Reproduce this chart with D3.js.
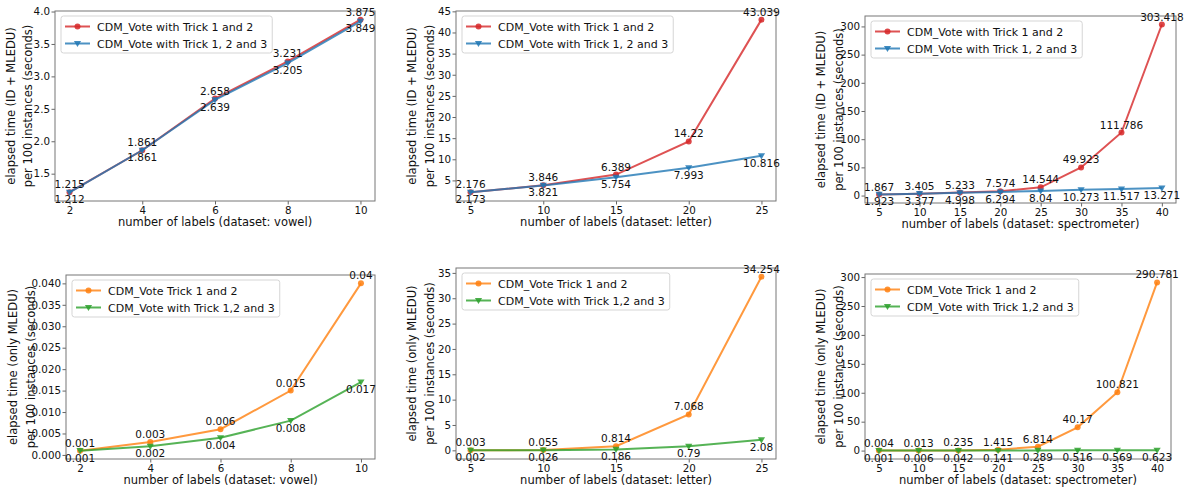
<!DOCTYPE html>
<html>
<head>
<meta charset="utf-8">
<script src="https://cdn.jsdelivr.net/npm/d3@7"></script>
<style>
  html, body { margin: 0; padding: 0; background: #fff; }
  svg { display: block; }
  text { font-family: "DejaVu Sans", sans-serif; fill: #111; }
</style>
</head>
<body>
<svg id="chart" width="1192" height="489"></svg>
<script>
// ---------------- DATA ----------------
const xVowel = [2, 4, 6, 8, 10];
const xLetter = [5, 10, 15, 20, 25];
const xSpectro = [5, 10, 15, 20, 25, 30, 35, 40];

const vowelTotalT12 = [1.215, 1.861, 2.658, 3.231, 3.875];
const vowelTotalT123 = [1.212, 1.861, 2.639, 3.205, 3.849];
const letterTotalT12 = [2.176, 3.846, 6.389, 14.22, 43.039];
const letterTotalT123 = [2.173, 3.821, 5.754, 7.993, 10.816];
const spectroTotalT12 = [1.867, 3.405, 5.233, 7.574, 14.544, 49.923, 111.786, 303.418];
const spectroTotalT123 = [1.923, 3.377, 4.998, 6.294, 8.04, 10.273, 11.517, 13.271];

const vowelMledT12 = [0.001, 0.003, 0.006, 0.015, 0.04];
const vowelMledT123 = [0.001, 0.002, 0.004, 0.008, 0.017];
const letterMledT12 = [0.003, 0.055, 0.814, 7.068, 34.254];
const letterMledT123 = [0.002, 0.026, 0.186, 0.79, 2.08];
const spectroMledT12 = [0.004, 0.013, 0.235, 1.415, 6.814, 40.17, 100.821, 290.781];
const spectroMledT123 = [0.001, 0.006, 0.042, 0.141, 0.289, 0.516, 0.569, 0.623];

const yTicksVowelTotal = [1.5, 2.0, 2.5, 3.0, 3.5, 4.0];
const yTicksLetterTotal = [5, 10, 15, 20, 25, 30, 35, 40, 45];
const yTicksSpectroTotal = [0, 50, 100, 150, 200, 250, 300];
const yTicksVowelMled = [0.000, 0.005, 0.010, 0.015, 0.020, 0.025, 0.030, 0.035, 0.040];
const yTicksLetterMled = [0, 5, 10, 15, 20, 25, 30, 35];
const yTicksSpectroMled = [0, 50, 100, 150, 200, 250, 300];

const legendTop = ["CDM_Vote with Trick 1 and 2", "CDM_Vote with Trick 1, 2 and 3"];
const legendBottom = ["CDM_Vote Trick 1 and 2", "CDM_Vote with Trick 1,2 and 3"];
const yLabelTop = ["elapsed time (ID + MLEDU)", "per 100 instances (seconds)"];
const yLabelBottom = ["elapsed time (only MLEDU)", "per 100 instances (seconds)"];
const xLabelVowel = "number of labels (dataset: vowel)";
const xLabelLetter = "number of labels (dataset: letter)";
const xLabelSpectro = "number of labels (dataset: spectrometer)";

// ---------------- LAYOUT ----------------
const svg = d3.select("#chart");
const TICK_FS = 10.3, ANN_FS = 10.5, LEG_FS = 11, LAB_FS = 11.5;

const panels = [
  { box: [55, 375, 11, 201], x: xVowel, s1: vowelTotalT12, s2: vowelTotalT123, yt: yTicksVowelTotal, yfmt: d3.format(".1f"),
    colors: ["#d62728", "#1f77b4"], legend: legendTop, ylab: yLabelTop, xlab: xLabelVowel, ylx: [11, 28] },
  { box: [456, 776, 11, 201], x: xLetter, s1: letterTotalT12, s2: letterTotalT123, yt: yTicksLetterTotal, yfmt: d3.format("d"),
    colors: ["#d62728", "#1f77b4"], legend: legendTop, ylab: yLabelTop, xlab: xLabelLetter, ylx: [412, 430] },
  { box: [865, 1176, 16, 203], x: xSpectro, s1: spectroTotalT12, s2: spectroTotalT123, yt: yTicksSpectroTotal, yfmt: d3.format("d"),
    colors: ["#d62728", "#1f77b4"], legend: legendTop, ylab: yLabelTop, xlab: xLabelSpectro, ylx: [821, 839] },
  { box: [66, 375, 275, 459], x: xVowel, s1: vowelMledT12, s2: vowelMledT123, yt: yTicksVowelMled, yfmt: d3.format(".3f"),
    colors: ["#ff7f0e", "#2ca02c"], legend: legendBottom, ylab: yLabelBottom, xlab: xLabelVowel, ylx: [13, 31] },
  { box: [456, 776, 268, 459], x: xLetter, s1: letterMledT12, s2: letterMledT123, yt: yTicksLetterMled, yfmt: d3.format("d"),
    colors: ["#ff7f0e", "#2ca02c"], legend: legendBottom, ylab: yLabelBottom, xlab: xLabelLetter, ylx: [412, 430] },
  { box: [865, 1171, 274, 459], x: xSpectro, s1: spectroMledT12, s2: spectroMledT123, yt: yTicksSpectroMled, yfmt: d3.format("d"),
    colors: ["#ff7f0e", "#2ca02c"], legend: legendBottom, ylab: yLabelBottom, xlab: xLabelSpectro, ylx: [821, 839] }
];

function padded(lo, hi) { const m = (hi - lo) * 0.05; return [lo - m, hi + m]; }

panels.forEach(p => {
  const [L, R, T, B] = p.box;
  const xs = d3.scaleLinear().domain(padded(d3.min(p.x), d3.max(p.x))).range([L, R]);
  const allY = p.s1.concat(p.s2);
  const ys = d3.scaleLinear().domain(padded(d3.min(allY), d3.max(allY))).range([B, T]);
  const g = svg.append("g");

  // axes
  const xAxis = d3.axisBottom(xs).tickValues(p.x).tickFormat(d3.format("d")).tickSize(3.5).tickSizeOuter(0).tickPadding(2);
  const yAxis = d3.axisLeft(ys).tickValues(p.yt).tickFormat(p.yfmt).tickSize(3.5).tickSizeOuter(0).tickPadding(1.5);
  const gx = g.append("g").attr("transform", `translate(0,${B})`).call(xAxis);
  const gy = g.append("g").attr("transform", `translate(${L},0)`).call(yAxis);
  [gx, gy].forEach(a => {
    a.select(".domain").remove();
    a.selectAll(".tick line").attr("stroke", "#555").attr("stroke-width", 0.9);
    a.selectAll(".tick text").attr("font-size", TICK_FS).attr("font-family", "DejaVu Sans").attr("fill", "#111");
  });

  // frame
  g.append("rect").attr("x", L).attr("y", T).attr("width", R - L).attr("height", B - T)
    .attr("fill", "none").attr("stroke", "#777").attr("stroke-width", 1);

  // lines & markers
  const series = [p.s1, p.s2];
  series.forEach((s, si) => {
    const pts = p.x.map((xv, i) => [xv, s[i]]);
    g.append("path").datum(pts)
      .attr("d", d3.line().x(d => xs(d[0])).y(d => ys(d[1])))
      .attr("fill", "none").attr("stroke", p.colors[si]).attr("stroke-width", 2).attr("stroke-opacity", 0.8);
    if (si === 0) {
      g.selectAll(null).data(pts).enter().append("circle")
        .attr("cx", d => xs(d[0])).attr("cy", d => ys(d[1])).attr("r", 3)
        .attr("fill", p.colors[si]).attr("fill-opacity", 0.85);
    } else {
      g.selectAll(null).data(pts).enter().append("path")
        .attr("transform", d => `translate(${xs(d[0])},${ys(d[1])})`)
        .attr("d", "M-3.6,-2.6L3.6,-2.6L0,3.6Z")
        .attr("fill", p.colors[si]).attr("fill-opacity", 0.85);
    }
  });

  // annotations
  p.x.forEach((xv, i) => {
    g.append("text").attr("x", xs(xv)).attr("y", ys(p.s1[i]) - 4)
      .attr("text-anchor", "middle").attr("font-size", ANN_FS).text(String(p.s1[i]));
    g.append("text").attr("x", xs(xv)).attr("y", ys(p.s2[i]) + 11)
      .attr("text-anchor", "middle").attr("font-size", ANN_FS).text(String(p.s2[i]));
  });

  // legend
  const lx = L + 6, ly = T + 5;
  const lg = g.append("g");
  const box = lg.append("rect").attr("x", lx).attr("y", ly).attr("rx", 2.5).attr("height", 37)
    .attr("fill", "#fff").attr("fill-opacity", 0.8).attr("stroke", "#d5d5d5").attr("stroke-width", 1);
  let maxW = 0;
  p.legend.forEach((lab, i) => {
    const cy = ly + 10.5 + i * 17;
    lg.append("line").attr("x1", lx + 4).attr("x2", lx + 29).attr("y1", cy).attr("y2", cy)
      .attr("stroke", p.colors[i]).attr("stroke-width", 2).attr("stroke-opacity", 0.8);
    if (i === 0) {
      lg.append("circle").attr("cx", lx + 16.5).attr("cy", cy).attr("r", 3).attr("fill", p.colors[i]).attr("fill-opacity", 0.85);
    } else {
      lg.append("path").attr("transform", `translate(${lx + 16.5},${cy})`).attr("d", "M-3.6,-2.6L3.6,-2.6L0,3.6Z")
        .attr("fill", p.colors[i]).attr("fill-opacity", 0.85);
    }
    const t = lg.append("text").attr("x", lx + 36).attr("y", cy + 4).attr("font-size", LEG_FS).text(lab);
    maxW = Math.max(maxW, t.node().getComputedTextLength());
  });
  box.attr("width", 36 + maxW + 5);

  // axis labels
  g.append("text").attr("x", (L + R) / 2).attr("y", B + 25).attr("text-anchor", "middle")
    .attr("font-size", LAB_FS).text(p.xlab);
  const cyy = (T + B) / 2;
  p.ylab.forEach((lab, i) => {
    g.append("text").attr("transform", `translate(${p.ylx[i] + 4},${cyy}) rotate(-90)`)
      .attr("text-anchor", "middle").attr("font-size", LAB_FS).text(lab);
  });
});
</script>
</body>
</html>
